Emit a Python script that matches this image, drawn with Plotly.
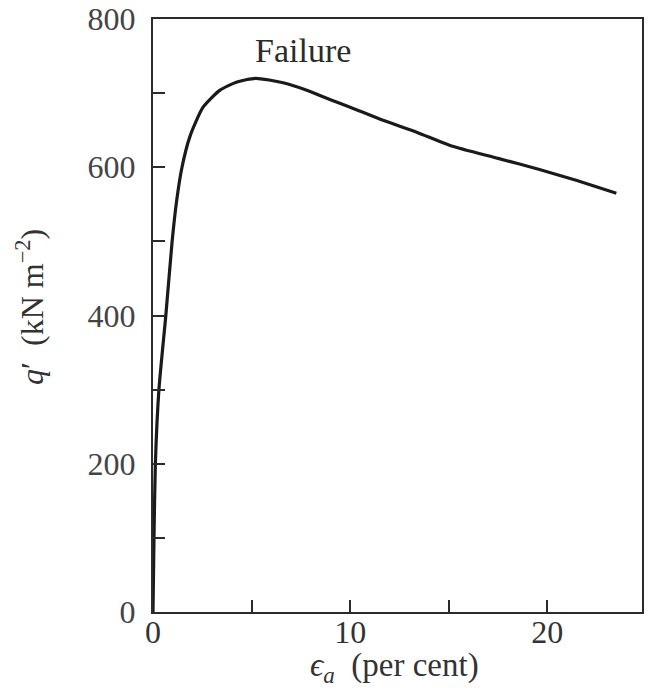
import plotly.graph_objects as go

# Axial strain (per cent) and deviator stress q' (kN/m^2)
strain = [0.0, 0.05, 0.12, 0.3, 0.65, 0.97, 1.2, 1.47, 1.88, 2.54, 3.4, 4.26, 5.2, 6.6, 7.8, 9.0, 10.0, 11.7, 13.4, 15.1, 17.5, 19.6, 21.5, 23.5]
q_prime = [0, 100, 200, 300, 400, 500, 555, 600, 642, 681, 704, 715, 720, 714, 704, 691, 681, 663, 647, 629, 612, 597, 582, 565]

x_ticks = [0, 10, 20]
y_ticks = [0, 200, 400, 600, 800]

FONT = "Liberation Serif"
INK = "#2b2b2b"

fig = go.Figure()
fig.add_trace(go.Scatter(
    x=strain, y=q_prime, mode="lines",
    line=dict(color="#1a1a1a", width=3.2, shape="spline", smoothing=0.6),
    showlegend=False, hoverinfo="skip",
))

fig.add_annotation(x=7.6, y=757, text="Failure", showarrow=False,
                   font=dict(family=FONT, size=34, color=INK))

# axis titles as paper-anchored annotations
fig.add_annotation(xref="paper", yref="paper", x=0.494, y=-0.094, xanchor="center", yanchor="middle",
                   text="<i>ϵ</i><sub><i>a</i></sub>  (per cent)", showarrow=False,
                   font=dict(family=FONT, size=33, color="#333"))
fig.add_annotation(xref="paper", yref="paper", x=-0.252, y=0.514, xanchor="center", yanchor="middle",
                   text="<i>q</i>′  (kN m<sup>−2</sup>)", showarrow=False, textangle=-90,
                   font=dict(family=FONT, size=32, color="#333"))

fig.update_layout(
    width=648, height=695,
    margin=dict(l=153, r=6, t=19, b=83),
    paper_bgcolor="white", plot_bgcolor="white",
    font=dict(family=FONT, size=30, color="#444"),
)

fig.update_xaxes(
    range=[0, 24.8], tickvals=x_ticks, ticktext=[str(v) for v in x_ticks],
    automargin=False,
    showline=True, mirror=True, linecolor=INK, linewidth=2,
    ticks="inside", ticklen=12, tickcolor=INK, tickwidth=1.5,
    minor=dict(dtick=5, tick0=0, ticks="inside", ticklen=12, tickcolor=INK, tickwidth=1.5, showgrid=False),
    showgrid=False, zeroline=False,
    tickfont=dict(family=FONT, size=32, color="#333"),
    ticklabelstandoff=-9,
)
fig.update_yaxes(
    range=[0, 800], tickvals=y_ticks, ticktext=[str(v) for v in y_ticks],
    automargin=False,
    showline=True, mirror=True, linecolor=INK, linewidth=2,
    ticks="inside", ticklen=12, tickcolor=INK, tickwidth=1.5,
    minor=dict(dtick=100, tick0=0, ticks="inside", ticklen=12, tickcolor=INK, tickwidth=1.5, showgrid=False),
    showgrid=False, zeroline=False,
    tickfont=dict(family=FONT, size=32, color="#444"),
    ticklabelstandoff=9,
)

fig.write_html("out.html", config={"displayModeBar": False},
               post_script="document.body.style.margin='0px';")
